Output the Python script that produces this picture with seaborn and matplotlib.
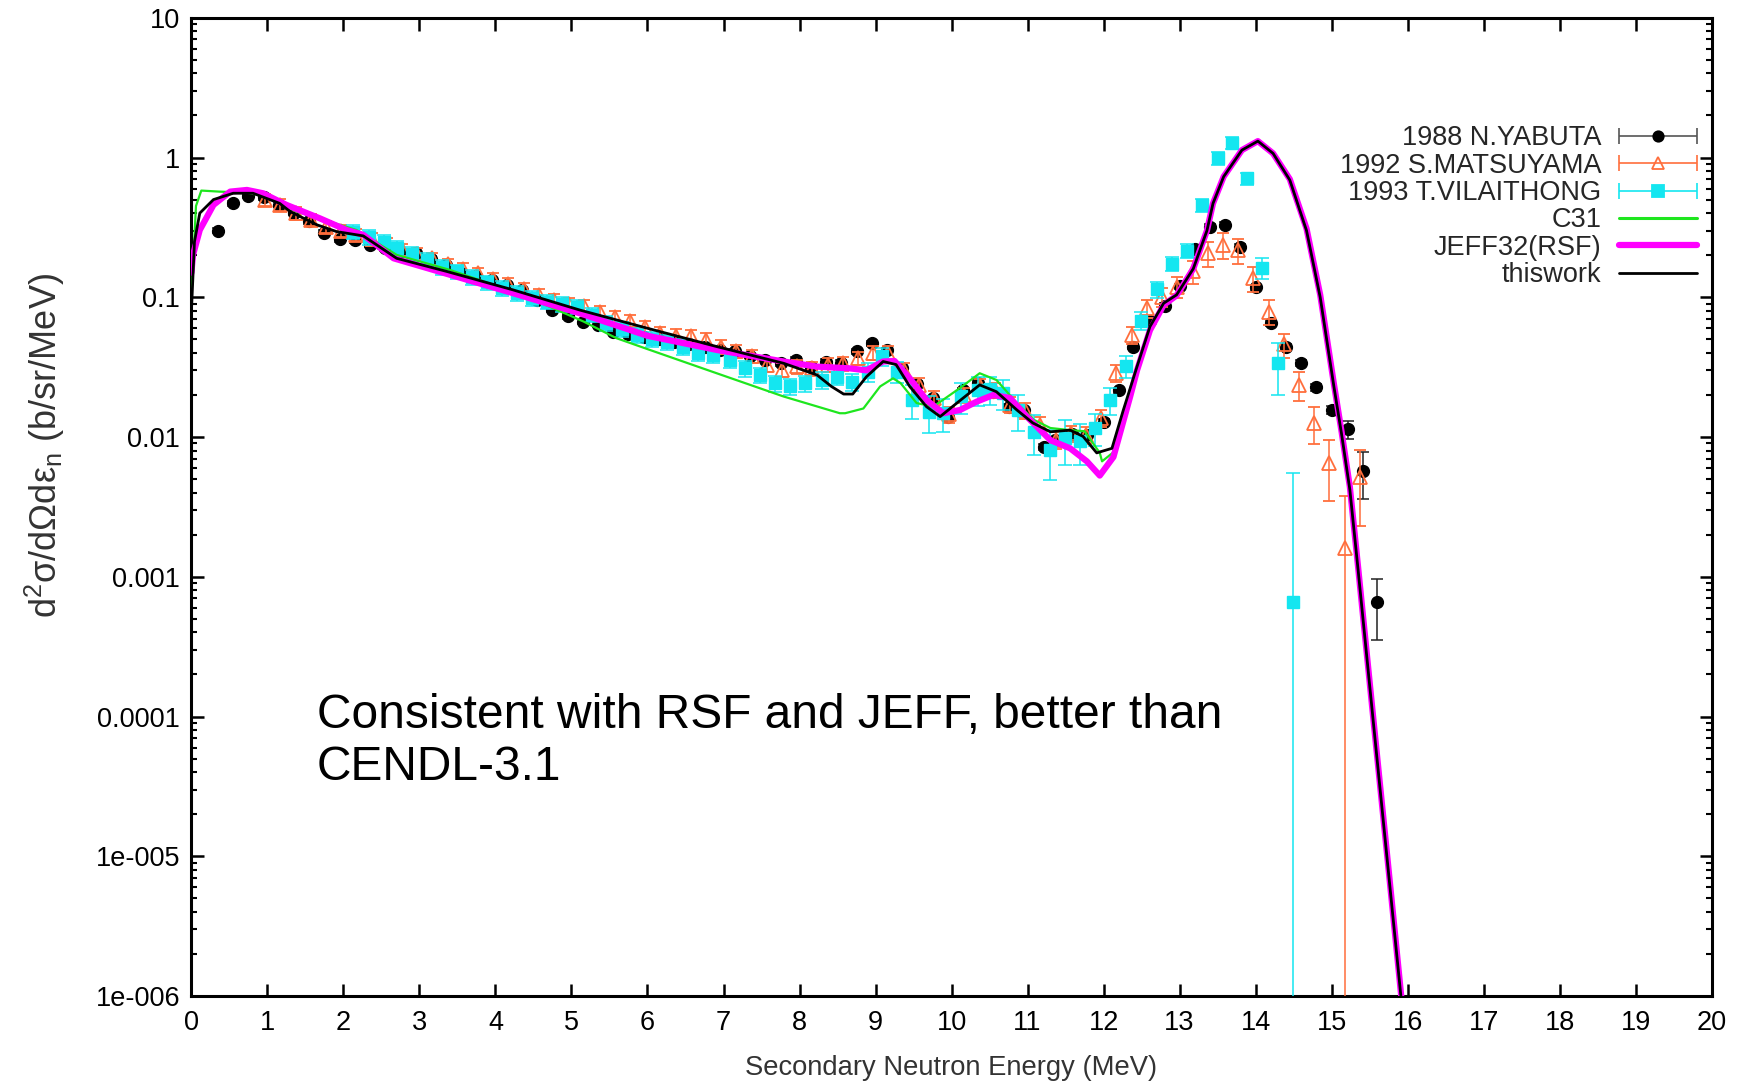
import numpy as np
import pandas as pd
import matplotlib
matplotlib.use("Agg")
import matplotlib.pyplot as plt
import seaborn as sns
from matplotlib.container import ErrorbarContainer
from matplotlib.collections import LineCollection
from matplotlib.lines import Line2D
from matplotlib.legend_handler import HandlerErrorbar
from matplotlib.ticker import LogLocator, NullFormatter
from matplotlib.transforms import Bbox

# Style
sns.set_style("ticks")
plt.rcParams['font.family'] = ['Liberation Sans', 'DejaVu Sans']
plt.rcParams['mathtext.fontset'] = 'custom'
plt.rcParams['mathtext.rm'] = 'Liberation Sans'
plt.rcParams['mathtext.it'] = 'Liberation Sans:italic'

# ---- data ----
# 1988 N.YABUTA (black dots)
yabuta_e = [0.35, 0.55, 0.75, 0.95, 1.15, 1.35, 1.55, 1.75, 1.95, 2.15, 2.35, 2.55,
            2.75, 2.95, 3.15, 3.35, 3.55, 3.75, 3.95, 4.15, 4.35, 4.55, 4.75, 4.95,
            5.15, 5.35, 5.55, 5.75, 5.95, 6.15, 6.35, 6.55, 6.75, 6.95, 7.15, 7.35,
            7.55, 7.75, 7.95, 8.15, 8.35, 8.55, 8.75, 8.95, 9.15, 9.35, 9.55, 9.75,
            9.95, 10.15, 10.35, 10.55, 10.75, 10.95, 11.21, 11.36, 11.58, 11.78, 12.0,
            12.2, 12.39, 12.61, 12.81, 13.0, 13.2, 13.4, 13.6, 13.8, 14.0, 14.2, 14.4,
            14.6, 14.8, 15.0, 15.21, 15.41, 15.6]
yabuta_v = [0.30, 0.47, 0.53, 0.52, 0.46, 0.40, 0.35, 0.29, 0.26, 0.255, 0.237, 0.225,
            0.212, 0.207, 0.189, 0.169, 0.150, 0.142, 0.133, 0.122, 0.112, 0.095, 0.081, 0.073,
            0.067, 0.0635, 0.0568, 0.055, 0.052, 0.050, 0.048, 0.046, 0.044, 0.042, 0.041, 0.038,
            0.0357, 0.0337, 0.0357, 0.0319, 0.0347, 0.034, 0.041, 0.047, 0.042, 0.031, 0.024, 0.019,
            0.014, 0.0217, 0.0243, 0.021, 0.0165, 0.0156, 0.0085, 0.0095, 0.0105, 0.0103, 0.0129,
            0.0217, 0.0444, 0.068, 0.087, 0.12, 0.222, 0.32, 0.33, 0.23, 0.118, 0.065, 0.0444,
            0.0337, 0.0228, 0.0156, 0.0114, 0.00573, 0.00066]
yabuta_dy = [0.012, 0.018, 0.02, 0.02, 0.018, 0.015, 0.013, 0.011, 0.01, 0.01, 0.009, 0.009,
             0.008, 0.008, 0.007, 0.006, 0.006, 0.005, 0.005, 0.005, 0.004, 0.004, 0.003, 0.003,
             0.0026, 0.0025, 0.0022, 0.0022, 0.002, 0.002, 0.0019, 0.0018, 0.0017, 0.0016, 0.0016, 0.0015,
             0.0014, 0.0013, 0.0014, 0.0012, 0.0014, 0.0013, 0.0016, 0.0019, 0.0017, 0.0012, 0.001, 0.0008,
             0.0006, 0.0009, 0.001, 0.0008, 0.0007, 0.0006, 0.0004, 0.0004, 0.0004, 0.0004, 0.0006,
             0.0009, 0.0018, 0.0027, 0.0035, 0.005, 0.009, 0.013, 0.013, 0.009, 0.005, 0.003, 0.002,
             0.0017, 0.0013, 0.001, 0.0017, 0.0021, 0.00031]

# 1992 S.MATSUYAMA (hollow orange triangles)
matsu_e = [0.97, 1.17, 1.37, 1.57, 1.77, 1.97, 2.17, 2.37, 2.57, 2.77, 2.97, 3.17,
           3.37, 3.57, 3.77, 3.97, 4.17, 4.37, 4.57, 4.77, 4.97, 5.17, 5.37, 5.57,
           5.77, 5.97, 6.17, 6.37, 6.57, 6.77, 6.97, 7.17, 7.37, 7.57, 7.77, 7.97,
           8.17, 8.37, 8.57, 8.77, 8.97, 9.17, 9.37, 9.57, 9.77, 9.97, 10.17, 10.37,
           10.57, 10.77, 10.97, 11.17, 11.37, 11.57, 11.77, 11.97, 12.17, 12.37, 12.57,
           12.77, 12.97, 13.17, 13.37, 13.57, 13.77, 13.97, 14.17, 14.37, 14.57, 14.77,
           14.97, 15.17, 15.37]
matsu_v = [0.50, 0.46, 0.40, 0.36, 0.32, 0.30, 0.28, 0.26, 0.24, 0.22, 0.205, 0.19,
           0.172, 0.16, 0.148, 0.135, 0.124, 0.114, 0.104, 0.096, 0.090, 0.0867, 0.078, 0.072,
           0.068, 0.061, 0.0553, 0.0528, 0.0524, 0.0496, 0.0444, 0.041, 0.038, 0.0328, 0.0302, 0.032,
           0.031, 0.033, 0.0337, 0.0367, 0.040, 0.040, 0.030, 0.0236, 0.019, 0.0145, 0.020, 0.023,
           0.0217, 0.017, 0.0155, 0.0122, 0.0095, 0.0106, 0.0103, 0.0136, 0.0286, 0.0538, 0.0836,
           0.101, 0.119, 0.153, 0.206, 0.237, 0.218, 0.137, 0.079, 0.046, 0.0236, 0.0126,
           0.0065, 0.0016, 0.0052]
matsu_dy = [0.05, 0.045, 0.04, 0.036, 0.032, 0.03, 0.028, 0.026, 0.024, 0.022, 0.021, 0.019,
            0.017, 0.016, 0.015, 0.014, 0.013, 0.012, 0.011, 0.01, 0.009, 0.009, 0.008, 0.0075,
            0.007, 0.0065, 0.006, 0.006, 0.006, 0.0055, 0.005, 0.0045, 0.0042, 0.0037, 0.0034, 0.0036,
            0.0035, 0.0037, 0.0038, 0.0042, 0.0045, 0.0046, 0.0036, 0.003, 0.0024, 0.0018, 0.0025, 0.0029,
            0.0027, 0.0022, 0.002, 0.0016, 0.0013, 0.0014, 0.0014, 0.0019, 0.004, 0.0075, 0.012,
            0.016, 0.02, 0.028, 0.041, 0.05, 0.045, 0.028, 0.016, 0.009, 0.0055, 0.0037,
            0.003, 0.0022, 0.0029]

# 1993 T.VILAITHONG (cyan squares)
vila_e = [2.13, 2.33, 2.53, 2.7, 2.9, 3.1, 3.3, 3.49, 3.69, 3.89, 4.09, 4.28,
          4.48, 4.68, 4.88, 5.07, 5.27, 5.46, 5.66, 5.86, 6.06, 6.25, 6.47, 6.67,
          6.86, 7.09, 7.28, 7.48, 7.68, 7.88, 8.07, 8.29, 8.49, 8.69, 8.9, 9.08,
          9.28, 9.48, 9.7, 9.89, 10.13, 10.35, 10.5, 10.68, 10.88, 11.08, 11.29, 11.49,
          11.69, 11.89, 12.09, 12.3, 12.49, 12.7, 12.9, 13.1, 13.3, 13.5, 13.69, 13.89,
          14.08, 14.3, 14.49]
vila_v = [0.295, 0.27, 0.25, 0.224, 0.205, 0.185, 0.165, 0.153, 0.14, 0.128, 0.116, 0.107,
          0.099, 0.093, 0.089, 0.0857, 0.075, 0.065, 0.059, 0.0537, 0.050, 0.048, 0.0444, 0.0398,
          0.0388, 0.0357, 0.031, 0.0278, 0.0243, 0.023, 0.0243, 0.0256, 0.027, 0.0249, 0.0294, 0.0377,
          0.0294, 0.0184, 0.0152, 0.0148, 0.0195, 0.0217, 0.022, 0.0206, 0.0156, 0.0109, 0.0081, 0.0098,
          0.0093, 0.0116, 0.0184, 0.0323, 0.068, 0.114, 0.173, 0.216, 0.458, 0.99, 1.28, 0.71,
          0.163, 0.0337, 0.00066]
vila_dy = [0.035, 0.032, 0.03, 0.027, 0.025, 0.022, 0.02, 0.018, 0.017, 0.015, 0.014, 0.013,
           0.012, 0.011, 0.011, 0.01, 0.009, 0.008, 0.007, 0.0065, 0.006, 0.006, 0.0055, 0.005,
           0.005, 0.0045, 0.004, 0.0036, 0.0032, 0.003, 0.0032, 0.0034, 0.0036, 0.0034, 0.0045, 0.0055,
           0.005, 0.005, 0.0045, 0.004, 0.005, 0.005, 0.005, 0.005, 0.0045, 0.0035, 0.0032, 0.0035,
           0.003, 0.003, 0.004, 0.006, 0.01, 0.015, 0.02, 0.025, 0.05, 0.1, 0.13, 0.07,
           0.027, 0.0136, 0.0049]

# C31 evaluation (green)
c31_e = [0.0, 0.06, 0.13, 0.37, 0.73, 0.99, 1.38, 1.82, 2.17, 2.7, 3.4, 4.23, 4.71,
         5.16, 5.59, 6.03, 6.91, 7.79, 8.53, 8.6, 8.84, 9.06, 9.23, 9.33, 9.54, 9.76,
         10.11, 10.37, 10.59, 10.86, 11.08, 11.3, 11.56, 11.75, 11.95, 11.98, 12.17, 12.35,
         12.44, 12.61, 12.79]
c31_v = [0.1, 0.45, 0.58, 0.57, 0.56, 0.526, 0.41, 0.347, 0.303, 0.201, 0.157, 0.11, 0.0857,
         0.067, 0.051, 0.042, 0.0286, 0.0195, 0.0148, 0.0148, 0.016, 0.023, 0.0263, 0.0243, 0.0175, 0.0165,
         0.0224, 0.0286, 0.0256, 0.0175, 0.0133, 0.0116, 0.0112, 0.011, 0.0077, 0.0067, 0.0081, 0.0195,
         0.030, 0.058, 0.088]

# JEFF32(RSF) evaluation (magenta)
jeff_e = [0.0, 0.02, 0.11, 0.29, 0.51, 0.73, 0.94, 1.25, 1.69, 2.04, 2.26, 2.66,
          4.23, 5.11, 6.0, 6.91, 7.79, 8.23, 8.66, 8.88, 9.1, 9.25, 9.45, 9.67,
          9.89, 10.11, 10.33, 10.55, 10.77, 10.99, 11.3, 11.56, 11.78, 11.95, 12.13, 12.35,
          12.44, 12.61, 12.79, 12.96, 13.18, 13.36, 13.44, 13.58, 13.82, 14.03, 14.23, 14.45,
          14.67, 14.85, 15.03, 15.13, 15.24, 15.35, 15.55, 15.75, 15.92, 16.0]
jeff_v = [0.15, 0.2, 0.303, 0.458, 0.57, 0.586, 0.555, 0.458, 0.367, 0.303, 0.28, 0.19,
          0.107, 0.0768, 0.053, 0.042, 0.0347, 0.0319, 0.031, 0.030, 0.0347, 0.035, 0.0263, 0.0184,
          0.0148, 0.0156, 0.0179, 0.020, 0.019, 0.014, 0.0095, 0.0083, 0.0067, 0.0053, 0.0072, 0.0195,
          0.030, 0.058, 0.088, 0.103, 0.16, 0.30, 0.47, 0.73, 1.13, 1.31, 1.07, 0.70,
          0.31, 0.104, 0.024, 0.011, 0.0044, 0.00115, 9.5e-5, 8e-6, 9.5e-7, 3.6e-7]

# this work (black)
this_e = [0.0, 0.04, 0.11, 0.29, 0.55, 0.81, 1.16, 1.3, 1.65, 1.91, 2.26, 2.7,
          3.36, 4.23, 5.11, 6.0, 6.91, 7.79, 8.23, 8.42, 8.58, 8.7, 8.88, 9.1,
          9.27, 9.45, 9.67, 9.85, 10.07, 10.37, 10.59, 10.86, 11.07, 11.3, 11.56, 11.73,
          11.91, 12.11, 12.26, 12.44, 12.61, 12.79, 12.96, 13.18, 13.36, 13.44, 13.58, 13.82,
          14.03, 14.23, 14.45, 14.67, 14.85, 15.03, 15.13, 15.24, 15.35, 15.55, 15.75, 15.92, 16.0]
this_v = [0.08, 0.25, 0.40, 0.50, 0.555, 0.555, 0.47, 0.41, 0.33, 0.295, 0.275, 0.19,
          0.153, 0.113, 0.081, 0.06, 0.0444, 0.0337, 0.0278, 0.023, 0.0203, 0.0203, 0.027, 0.0347,
          0.033, 0.023, 0.0165, 0.014, 0.0175, 0.0236, 0.0211, 0.0156, 0.0126, 0.0109, 0.0112, 0.0101,
          0.0077, 0.0083, 0.0156, 0.0319, 0.0617, 0.0906, 0.104, 0.16, 0.30, 0.47, 0.73, 1.13,
          1.31, 1.07, 0.69, 0.30, 0.10, 0.023, 0.0106, 0.0042, 0.0011, 9e-5, 7.5e-6, 9e-7, 3.4e-7]

legend_labels = ['1988 N.YABUTA', '1992 S.MATSUYAMA', '1993 T.VILAITHONG',
                 'C31', 'JEFF32(RSF)', 'thiswork']
xticks = list(range(0, 21))
yticks = [1e-6, 1e-5, 1e-4, 1e-3, 1e-2, 1e-1, 1, 10]
ytick_labels = ['1e-006', '1e-005', '0.0001', '0.001', '0.01', '0.1', '1', '10']

black = '#000000'
orange = '#ff6e3c'
cyan = '#14e6f0'
green = '#1ee61e'
magenta = '#ff00ff'

# ---- figure ----
fig = plt.figure(figsize=(17.45, 10.83), dpi=100)
ax = fig.add_axes([0.1097, 0.0803, 0.8712, 0.9033])
ax.set_yscale('log')

# experimental points
ax.errorbar(yabuta_e, yabuta_v, yerr=yabuta_dy, fmt='o', color=black, ms=8.5,
            ecolor='#222222', elinewidth=1.1, capsize=4.3, capthick=1.1, zorder=2)
ax.errorbar(matsu_e, matsu_v, yerr=matsu_dy, fmt='^', color=orange, mfc='none', mec=orange,
            mew=1.3, ms=9.5, ecolor=orange, elinewidth=1.1, capsize=4.5, capthick=1.1, zorder=3)
ax.errorbar(vila_e, vila_v, yerr=vila_dy, fmt='s', color=cyan, mec=cyan, ms=8,
            ecolor=cyan, elinewidth=1.1, capsize=5, capthick=1.1, zorder=4)

# evaluated curves
curves = [
    (pd.DataFrame({'E': c31_e, 'v': c31_v}), green, 1.6),
    (pd.DataFrame({'E': jeff_e, 'v': jeff_v}), magenta, 4.5),
    (pd.DataFrame({'E': this_e, 'v': this_v}), black, 2.0),
]
for i, (df, col, lw) in enumerate(curves):
    sns.lineplot(data=df, x='E', y='v', ax=ax, color=col, lw=lw, estimator=None,
                 sort=False, legend=False, zorder=5 + i)

ax.set_xlim(0, 20)
ax.set_ylim(1e-6, 10)
ax.set_xticks(xticks)
ax.set_xticklabels([str(t) for t in xticks])
ax.set_yticks(yticks)
ax.set_yticklabels(ytick_labels)
ax.yaxis.set_minor_locator(LogLocator(base=10, subs=np.arange(2, 10) * 1.0, numticks=100))
ax.yaxis.set_minor_formatter(NullFormatter())
ax.tick_params(which='both', direction='in', top=True, right=True, colors='black',
               labelsize=19.5)
ax.tick_params(axis='x', pad=10)
ax.tick_params(axis='y', pad=8)
ax.tick_params(which='major', length=9, width=1.8)
ax.tick_params(which='minor', length=4.5, width=1.5)
for sp in ax.spines.values():
    sp.set_linewidth(2.2)
    sp.set_color('black')

ax.set_xlabel('Secondary Neutron Energy (MeV)', fontsize=19.7, color='#333333', va='top')
ax.xaxis.set_label_coords(0.5, -0.060)
ax.set_ylabel(r'd$^{\mathregular{2}}$σ/dΩdε$_{\mathregular{n}}$ (b/sr/MeV)', fontsize=26,
              color='#333333', va='center')
ax.yaxis.set_label_coords(-0.0966, 0.563)

ax.text(0.0826, 0.31, 'Consistent with RSF and JEFF, better than\nCENDL-3.1',
        transform=ax.transAxes, fontsize=34.5, ha='left', va='top', color='black',
        linespacing=1.2)

# gnuplot-like legend: label first, then sample with horizontal error bar
def err_handle(col, marker, mfc, ms, ecol):
    pl = Line2D([], [], color=col, marker=marker, markerfacecolor=mfc, markeredgecolor=col,
                markersize=ms, linestyle='none', markeredgewidth=1.3)
    cap = Line2D([], [], color=ecol, markersize=12, markeredgewidth=1.2)
    bars = LineCollection([], colors=ecol, linewidths=1.2)
    return ErrorbarContainer((pl, (cap, cap), (bars,)), has_xerr=True, has_yerr=False)

handles = [
    err_handle(black, 'o', black, 7.5, '#555555'),
    err_handle(orange, '^', 'none', 8, orange),
    err_handle(cyan, 's', cyan, 8, cyan),
    Line2D([], [], color=green, lw=2.2),
    Line2D([], [], color=magenta, lw=4.5),
    Line2D([], [], color=black, lw=2.0),
]
hl = 2.9
ax.legend(handles, legend_labels, loc='upper right', bbox_to_anchor=(0.9904, 0.890),
          frameon=False, markerfirst=False, fontsize=19.5, handlelength=hl,
          handletextpad=0.63, labelspacing=0.05, borderpad=0, borderaxespad=0,
          numpoints=1, handler_map={ErrorbarContainer: HandlerErrorbar(xerr_size=hl / 2)})

# the last x tick label is cut off at the right edge in the original
last_lab = ax.xaxis.get_major_ticks()[-1].label1
last_lab.set_clip_box(Bbox.from_extents(0, 0, 1727, 1083))
last_lab.set_clip_on(True)

fig.savefig('out.png', dpi=100)
